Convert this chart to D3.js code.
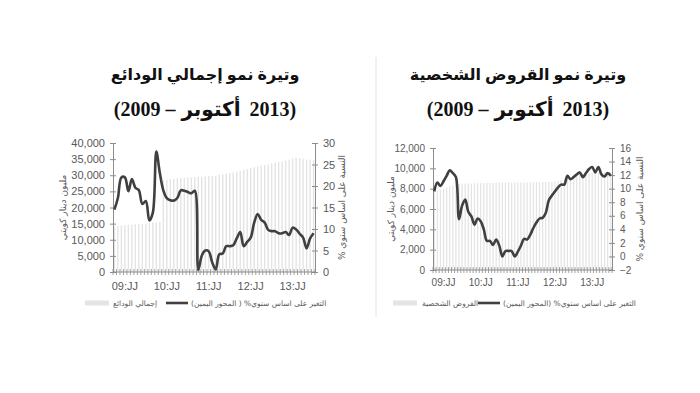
<!DOCTYPE html>
<html><head><meta charset="utf-8">
<script src="https://cdn.jsdelivr.net/npm/d3@7"></script>
<style>body{margin:0;background:#fff}svg{display:block}</style>
</head><body>
<svg id="c" width="700" height="393"></svg>
<script>
// ---------- DATA ----------
const categories = [];
for (let y = 2009; y <= 2013; y++) for (let m = 1; m <= 12; m++) {
  if (y === 2013 && m > 10) break;
  categories.push(y + "-" + String(m).padStart(2, "0"));
}
const xLabels = ["09:JJ", "10:JJ", "11:JJ", "12:JJ", "13:JJ"];
const xLabelMonths = ["2009-04", "2010-04", "2011-04", "2012-04", "2013-04"];

// Total deposits (million KD, left axis) and YoY growth % (right axis)
const depositsBars = [14000,14200,14400,14500,14600,14700,14800,14900,15000,15100,15200,15300,15400,15500,
  28400,28600,28800,28900,29000,29100,29200,29300,29400,29400,29500,29500,29600,29700,29800,29900,
  30100,30300,30500,30700,30900,31100,31400,31700,31900,32200,32500,32700,33000,33200,33400,33700,
  33900,34100,34300,34600,34800,35200,35400,35300,35100,34900,34800,34700];
const depositsGrowth = [14.5,17.2,22.0,22.0,18.8,21.6,19.6,19.0,15.8,16.5,12.0,13.8,28.0,23.0,
  19.0,17.2,16.7,16.6,17.2,19.0,18.9,18.6,18.3,18.9,0.5,3.8,5.0,4.8,2.2,0.6,
  4.1,4.3,6.0,6.0,6.2,7.8,9.3,6.0,7.0,8.0,11.5,13.5,12.1,11.5,9.8,9.5,
  9.5,9.0,9.0,9.3,8.6,10.3,9.9,8.9,8.0,5.5,7.8,9.0];
const depositsLeftTicks = [0,5000,10000,15000,20000,25000,30000,35000,40000];
const depositsRightTicks = [0,5,10,15,20,25,30];

// Personal loans (million KD, left axis) and YoY growth % (right axis)
const loansBars = [7600,7800,7900,8000,8100,8200,8300,8400,8450,8480,8500,8500,8520,8530,8540,8550,
  8560,8560,8570,8570,8580,8580,8590,8590,8600,8600,8600,8610,8610,8620,8620,8630,8630,8640,8640,
  8650,8650,8660,8680,8700,8750,8850,8950,9050,9150,9250,9330,9400,9450,9500,9520,9540,9560,9580,
  9600,9600,9620,9640];
const loansGrowth = [9.6,10.9,10.4,11.1,11.9,12.7,12.3,11.7,5.5,7.5,8.4,6.6,5.9,4.7,5.6,5.2,
  4.0,2.3,2.3,1.7,2.5,1.6,0.0,0.8,0.8,0.8,0.0,0.7,1.6,2.6,2.5,3.2,4.2,5.0,5.6,5.7,
  6.4,8.3,9.0,9.6,10.2,10.6,10.6,11.9,11.4,11.7,12.1,12.4,11.7,12.3,12.9,13.2,12.4,13.2,
  12.1,11.8,12.3,11.9];
const loansLeftTicks = [0,2000,4000,6000,8000,10000,12000];
const loansRightTicks = [-2,0,2,4,6,8,10,12,14,16];

const leftAxisTitle = "مليون دينار كويتي";
const rightAxisTitle = "النسبة على اساس سنوي %";
const depositsLineLegend = "التغير على اساس سنوي% ( المحور اليمين)";
const loansLineLegend = "التغير على اساس سنوي% (المحور اليمين)";
// period line, pieces in visual left-to-right order, with their writing direction
const periodPieces = [["(2009 –", "ltr"], ["أكتوبر", "rtl"], ["2013)", "ltr"]];

// ---------- DRAW ----------
const svg = d3.select("#c");
const AX = "#8c8c8c", TXT = "#595959";

svg.append("line").attr("x1", 376).attr("x2", 376).attr("y1", 57).attr("y2", 317)
  .attr("stroke", "#e2e2e2").attr("stroke-width", 1);

function drawPieces(g, pieces, cx, y) {
  const ts = pieces.map(([p, dir]) => g.append("text").attr("y", y).attr("text-anchor", "middle")
    .attr("direction", dir).attr("unicode-bidi", "bidi-override")
    .style("direction", dir).style("unicode-bidi", "bidi-override")
    .attr("font-family", "Liberation Serif, DejaVu Sans").attr("font-weight", "bold").attr("font-size", 20)
    .attr("fill", "#111").text(p));
  const ws = ts.map(t => t.node().getComputedTextLength());
  const gaps = [6, 9];
  const total = d3.sum(ws) + d3.sum(gaps);
  let x = cx - total / 2;
  ts.forEach((t, i) => { t.attr("x", x + ws[i] / 2); x += ws[i] + (gaps[i] || 0); });
}

function drawChart(o) {
  const g = svg.append("g");
  g.append("text").attr("x", o.titleX).attr("y", 80).attr("text-anchor", "middle")
    .attr("font-family", "Liberation Serif, DejaVu Sans").attr("font-weight", "bold").attr("font-size", 16)
    .attr("fill", "#111").text(o.title1);
  drawPieces(g, periodPieces, o.titleX, 116);

  const x = d3.scaleBand().domain(categories).range([o.x0, o.x1]).paddingInner(0.6).paddingOuter(0.2);
  const yL = d3.scaleLinear().domain(d3.extent(o.leftTicks)).range([o.yB, o.yT]);
  const yR = d3.scaleLinear().domain(d3.extent(o.rightTicks)).range([o.yB, o.yT]);

  g.append("g").selectAll("rect").data(o.bars).join("rect")
    .attr("x", (d, i) => x(categories[i])).attr("width", x.bandwidth())
    .attr("y", d => yL(d)).attr("height", d => o.yB - yL(d)).attr("fill", "#e4e4e4");

  const fmt = d3.format(",");
  const styleAxis = sel => {
    sel.select(".domain").attr("stroke", AX);
    sel.selectAll(".tick line").attr("stroke", AX);
    sel.selectAll(".tick text").attr("fill", TXT).attr("font-family", "Liberation Sans").attr("font-size", o.fs);
  };
  g.append("g").attr("transform", `translate(${o.x0},0)`)
    .call(d3.axisLeft(yL).tickValues(o.leftTicks).tickFormat(fmt).tickSizeInner(3).tickSizeOuter(0).tickPadding(5))
    .call(styleAxis);
  g.append("g").attr("transform", `translate(${o.x0},0)`)
    .call(d3.axisLeft(yL).tickValues(o.leftTicks).tickFormat("").tickSizeInner(-3).tickSizeOuter(0))
    .call(sel => { sel.select(".domain").remove(); sel.selectAll(".tick line").attr("stroke", AX); });
  g.append("g").attr("transform", `translate(${o.x1},0)`)
    .call(d3.axisRight(yR).tickValues(o.rightTicks).tickSizeInner(3).tickSizeOuter(0).tickPadding(5))
    .call(styleAxis);
  g.append("g").attr("transform", `translate(${o.x1},0)`)
    .call(d3.axisRight(yR).tickValues(o.rightTicks).tickFormat("").tickSizeInner(-3).tickSizeOuter(0))
    .call(sel => { sel.select(".domain").remove(); sel.selectAll(".tick line").attr("stroke", AX); });

  const bAxis = g.append("g").attr("transform", `translate(0,${o.yB})`)
    .call(d3.axisBottom(x).tickValues(xLabelMonths).tickFormat((d, i) => xLabels[i]).tickSize(0).tickPadding(o.xPad))
    .call(styleAxis);
  bAxis.select(".domain").attr("d", `M${o.x0},0H${o.x1}`);
  const bt = d3.range(categories.length + 1);
  g.append("g").selectAll("line").data(bt).join("line")
    .attr("x1", i => o.x0 + i * (o.x1 - o.x0) / categories.length)
    .attr("x2", i => o.x0 + i * (o.x1 - o.x0) / categories.length)
    .attr("y1", o.yB - 3).attr("y2", o.yB + 3).attr("stroke", AX).attr("stroke-width", 0.8);

  const line = d3.line().x((d, i) => x(categories[i]) + x.bandwidth() / 2).y(d => yR(d))
    .curve(d3.curveCatmullRom.alpha(0.5));
  g.append("path").datum(o.growth).attr("d", line).attr("fill", "none")
    .attr("stroke", "#404040").attr("stroke-width", 2.6).attr("stroke-linejoin", "round");

  g.append("text").attr("transform", `translate(${o.lTitleX},${(o.yT + o.yB) / 2}) rotate(-90)`)
    .attr("text-anchor", "middle").attr("direction", "rtl").attr("font-family", "DejaVu Sans")
    .attr("font-size", 9).attr("fill", TXT).text(leftAxisTitle);
  g.append("text").attr("transform", `translate(${o.rTitleX},${(o.yT + o.yB) / 2}) rotate(-90)`)
    .attr("text-anchor", "middle").attr("direction", "rtl").attr("font-family", "DejaVu Sans")
    .attr("font-size", 9).attr("fill", TXT).text(rightAxisTitle);

  const ly = o.legY;
  g.append("rect").attr("x", o.leg.sw0).attr("y", ly - 2.5).attr("width", o.leg.sw1 - o.leg.sw0).attr("height", 5).attr("fill", "#e4e4e4");
  g.append("text").attr("x", o.leg.t1).attr("y", ly + 3).attr("text-anchor", "end").attr("direction", "rtl")
    .attr("font-family", "DejaVu Sans").attr("font-size", 7.5).attr("fill", TXT).text(o.barLegend);
  g.append("line").attr("x1", o.leg.l0).attr("x2", o.leg.l1).attr("y1", ly).attr("y2", ly)
    .attr("stroke", "#404040").attr("stroke-width", 2.6);
  g.append("text").attr("x", o.leg.t2).attr("y", ly + 3).attr("text-anchor", "end").attr("direction", "rtl")
    .attr("font-family", "DejaVu Sans").attr("font-size", 7.5).attr("fill", TXT).text(o.lineLegend);
}

drawChart({
  title1: "وتيرة نمو إجمالي الودائع", titleX: 205,
  x0: 113, x1: 315, yT: 143, yB: 272, fs: 11, xPad: 10,
  bars: depositsBars, growth: depositsGrowth, leftTicks: depositsLeftTicks, rightTicks: depositsRightTicks,
  lTitleX: 66, rTitleX: 345, legY: 303, barLegend: "إجمالي الودائع", lineLegend: depositsLineLegend,
  leg: { sw0: 85, sw1: 109, t1: 113, l0: 166, l1: 188, t2: 191 }
});
drawChart({
  title1: "وتيرة نمو القروض الشخصية", titleX: 518,
  x0: 433, x1: 612, yT: 148, yB: 270, fs: 10, xPad: 9,
  bars: loansBars, growth: loansGrowth, leftTicks: loansLeftTicks, rightTicks: loansRightTicks,
  lTitleX: 394, rTitleX: 643, legY: 303, barLegend: "القروض الشخصية", lineLegend: loansLineLegend,
  leg: { sw0: 393, sw1: 417, t1: 422, l0: 478, l1: 500, t2: 503 }
});
</script>
</body></html>
